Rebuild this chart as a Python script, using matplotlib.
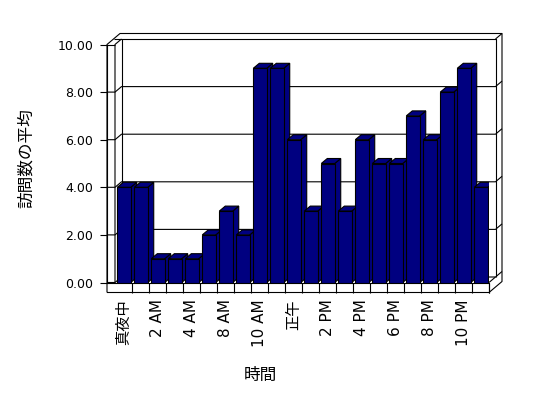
import matplotlib
matplotlib.use('Agg')
import matplotlib.pyplot as plt
from matplotlib.patches import Polygon
from matplotlib.ticker import FormatStrFormatter
import numpy as np

plt.rcParams['font.family'] = ['DejaVu Sans', 'Noto Sans CJK JP']

# average visits per hour of day
hours = ['真夜中', '1 AM', '2 AM', '3 AM', '4 AM', '7 AM', '8 AM', '9 AM', '10 AM', '11 AM',
         '正午', '1 PM', '2 PM', '3 PM', '4 PM', '5 PM', '6 PM', '7 PM', '8 PM', '9 PM',
         '10 PM', '11 PM']
visits = [4, 4, 1, 1, 1, 2, 3, 2, 9, 9, 6, 3, 5, 3, 6, 5, 5, 7, 6, 8, 9, 4]
y_ticks = [0, 2, 4, 6, 8, 10]

NAVY = '#000080'
LW = 0.8


def line(ax, xs, ys, z=1):
    ax.plot(xs, ys, color='black', lw=LW, clip_on=False, zorder=z,
            solid_capstyle='butt')


def main():
    fig = plt.figure(figsize=(5.48, 3.98), dpi=100)
    ax = fig.add_axes([115 / 548, (398 - 282.5) / 398, 374 / 548, 238 / 398])
    n = len(hours)
    ymax = y_ticks[-1]
    ax.set_xlim(-0.5, n - 0.5)
    ax.set_ylim(0, ymax)
    ax.patch.set_visible(False)

    # pixel depths converted to data units
    px_x = ax.bbox.width / n
    px_y = ax.bbox.height / ymax
    dx, dy = 6.5 / px_x, 5.5 / px_y      # wall depth step
    bdx, bdy = 6 / px_x, 5 / px_y        # bar depth
    wx = 8 / px_x                        # left wall thickness
    ft = 10 / px_y                       # floor thickness
    xl, xr = -0.5, n - 0.5

    # outer frame
    line(ax, [xl - wx, xl - wx, xl - wx + dx, xl - wx + 2 * dx, xr + 2 * dx,
              xr + 2 * dx, xr, xl - wx],
         [-ft, ymax, ymax + dy, ymax + 2 * dy, ymax + 2 * dy, -ft + 2 * dy, -ft, -ft])
    # floor edges
    line(ax, [xl - wx, xr, xr], [0, 0, -ft])
    line(ax, [xr, xr + dx], [0, dy])
    # back wall
    line(ax, [xr + dx, xr + dx, xl + dx, xl + dx], [dy, ymax + dy, ymax + dy, dy])
    line(ax, [xr + dx, xr + 2 * dx], [ymax + dy, ymax + 2 * dy])
    # left wall
    line(ax, [xl, xl, xl + dx], [0, ymax, ymax + dy])
    line(ax, [xl - wx, xl], [ymax, ymax])
    line(ax, [xl - wx + dx, xl + dx], [ymax + dy, ymax + dy])

    # gridlines on walls
    for v in y_ticks[:-1]:
        line(ax, [xl - wx, xl, xl + dx, xr + dx, xr + 2 * dx],
             [v, v, v + dy, v + dy, v + 2 * dy])

    # bars, drawn left to right so nearer faces cover
    x = np.arange(n)
    bars = ax.bar(x + 0.03, visits, width=0.79, color=NAVY, edgecolor='black',
                  linewidth=LW)
    for i, (b, v) in enumerate(zip(bars, visits)):
        b.set_zorder(3 + i * 0.01 + 0.005)
        x0 = b.get_x()
        x1 = x0 + b.get_width()
        side = Polygon([(x1, 0), (x1 + bdx, bdy), (x1 + bdx, v + bdy), (x1, v)],
                       closed=True, fc=NAVY, ec='black', lw=LW, zorder=3 + i * 0.01)
        top = Polygon([(x0, v), (x0 + bdx, v + bdy), (x1 + bdx, v + bdy), (x1, v)],
                      closed=True, fc=NAVY, ec='black', lw=LW, zorder=3 + i * 0.01)
        ax.add_patch(side)
        ax.add_patch(top)

    # axes
    for s in ['top', 'right', 'bottom']:
        ax.spines[s].set_visible(False)
    ax.spines['left'].set_position(('outward', 8 * 0.72))
    ax.spines['left'].set_linewidth(LW)
    ax.set_yticks(y_ticks)
    ax.yaxis.set_major_formatter(FormatStrFormatter('%.2f'))
    ax.tick_params(axis='y', direction='out', length=5, width=LW, pad=5, labelsize=9)

    ax.set_xticks(x[::2])
    ax.set_xticklabels(hours[::2], rotation=90, va='top')
    ax.set_xticks(np.arange(0.5, n, 1), minor=True)
    ax.tick_params(axis='x', which='major', length=0, pad=12, labelsize=11)
    ax.tick_params(axis='x', which='minor', direction='out', length=7.2, width=LW)

    ax.set_xlabel('時間', family='Noto Sans CJK JP', fontsize=12, va='center')
    ax.xaxis.set_label_coords((260 - 115) / 374, (282.5 - 375) / 238)
    ax.set_ylabel('訪問数の平均', family='Noto Sans CJK JP', fontsize=12, va='center')
    ax.yaxis.set_label_coords((26 - 115) / 374, (282.5 - 158) / 238)

    fig.savefig('out.png', dpi=100)
    plt.close(fig)


if __name__ == '__main__':
    main()
